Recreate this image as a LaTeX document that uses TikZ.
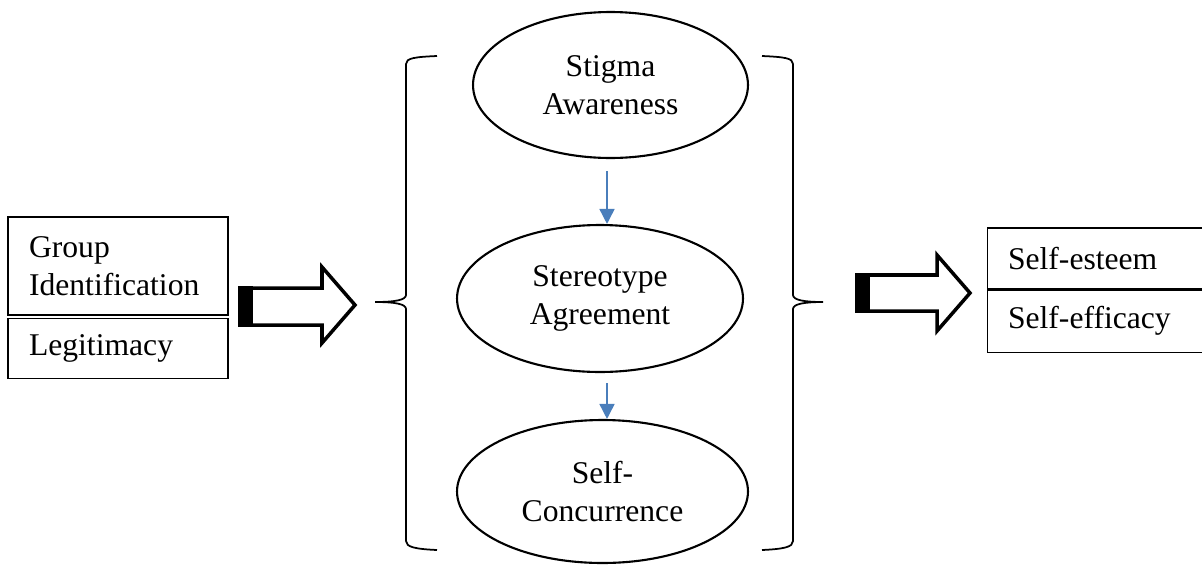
\documentclass[tikz,border=0pt]{standalone}
\usepackage{fontspec}
\setmainfont{Liberation Serif}
\usetikzlibrary{arrows.meta,positioning,shapes.geometric}
\definecolor{linkblue}{HTML}{4A7EBB}

\begin{document}
\begin{tikzpicture}[x=0.02cm,y=-0.02cm,
  cell/.style={draw,line width=0.6pt,inner xsep=0.42cm,inner ysep=0pt,align=left,
    font=\fontsize{18}{21.4}\selectfont},
  stage/.style={ellipse,draw,line width=1.2pt,inner sep=0pt,align=center,
    font=\fontsize{18}{21.4}\selectfont},
  link/.style={-{Triangle[length=0.3cm,width=0.3cm]},line width=0.9pt,draw=linkblue},
  hollow/.style={draw,line width=2pt,fill=white,miter limit=10},
  brace/.style={draw,line width=1pt}
]
\useasboundingbox (0,0) rectangle (1202,565);

% left: predictors
\node[cell,text width=3.56cm,minimum width=4.4cm,minimum height=1.96cm] (grpid) at (118,266) {Group\\Identification};
\node[cell,text width=3.56cm,minimum width=4.4cm,minimum height=1.2cm,below=0.04cm of grpid] (legit) {Legitimacy};

% middle: stages
\node[stage,minimum width=5.5cm,minimum height=2.92cm] (aware) at (610.5,85) {Stigma\\Awareness};
\node[stage,minimum width=5.72cm,minimum height=2.94cm] (agree) at (600,298.5) {Stereotype\\Agreement};
\node[stage,minimum width=5.82cm,minimum height=2.86cm] (concur) at (602.5,491.5) {Self-\\Concurrence};
\coordinate (axis) at (607,0);
\draw[link,shorten <=0.24cm] (aware.south -| axis) -- (agree.north -| axis);
\draw[link,shorten <=0.2cm] (agree.south -| axis) -- (concur.north -| axis);

% braces
\path[brace] (437,56) .. controls (415,57) and (406,58) .. (406,64) -- (406,295)
  .. controls (406,300) and (395,302) .. (375,302)
  .. controls (395,302) and (406,304) .. (406,309) -- (406,541)
  .. controls (406,547) and (415,549) .. (437,550);
\path[brace] (762,56) .. controls (784,57) and (793,58) .. (793,64) -- (793,295)
  .. controls (793,300) and (804,302) .. (823,302)
  .. controls (804,302) and (793,304) .. (793,309) -- (793,541)
  .. controls (793,547) and (784,549) .. (762,550);

% block arrows
\draw[hollow] (245,288) -- (322,288) -- (322,267) -- (355,305) -- (322,343) -- (322,325) -- (245,325) -- cycle;
\fill (238,286) rectangle (253,327);
\draw[hollow] (862,275) -- (937,275) -- (937,255) -- (970,293) -- (937,331) -- (937,311) -- (862,311) -- cycle;
\fill (855,273) rectangle (870,313);

% right: outcomes
\node[cell,text width=3.48cm,minimum width=4.32cm,minimum height=1.22cm] (esteem) at (1095,258.5) {Self-esteem};
\node[cell,text width=3.48cm,minimum width=4.32cm,minimum height=1.24cm,below=0pt of esteem] (efficacy) {Self-efficacy};
\end{tikzpicture}
\end{document}
